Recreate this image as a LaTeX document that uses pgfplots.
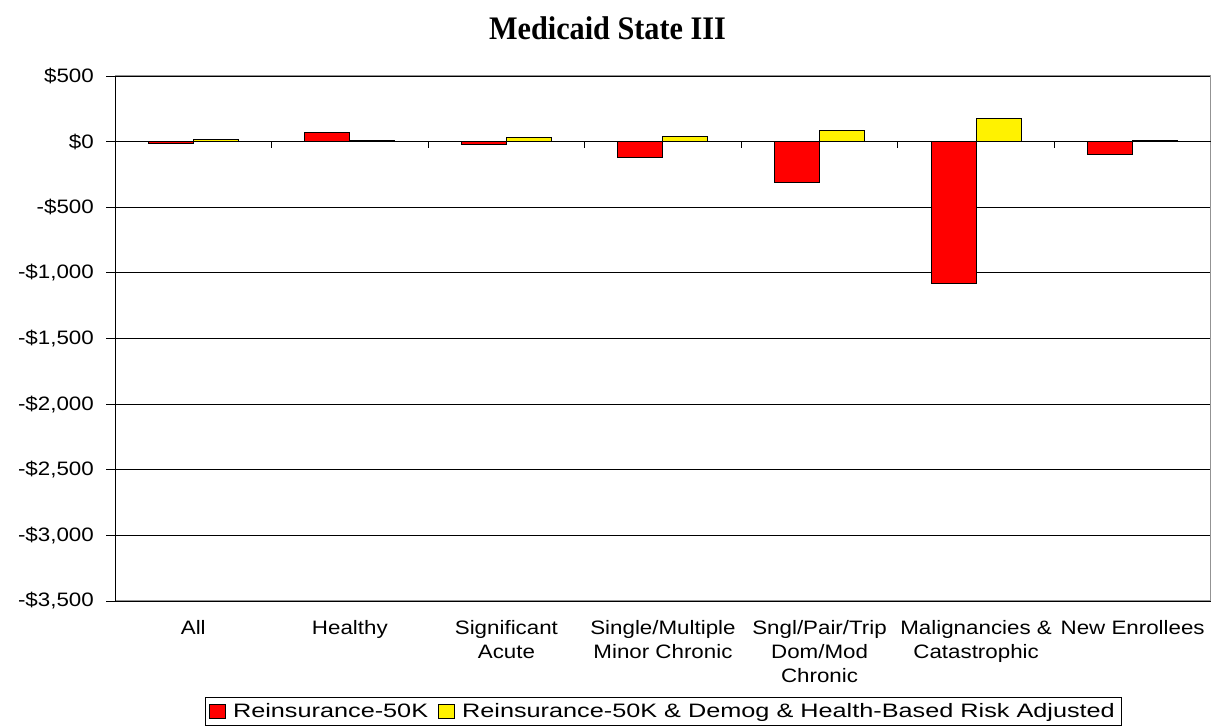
\documentclass[border=0pt]{standalone}
\usepackage{fontspec}
\setmainfont{Liberation Sans}[FakeStretch=1.15]
\newfontfamily\legfont{Liberation Sans}[FakeStretch=1.3]
\newfontfamily\titlefont{Liberation Serif}[FakeStretch=0.92]
\usepackage{pgfplots}
\pgfplotsset{compat=1.18}
\pgfplotsset{sqlegend/.style={legend image code/.code={\draw[##1] (0bp,-7bp) rectangle (16bp,7bp);}}}
\begin{document}
\begin{tikzpicture}[x=1bp,y=1bp]
\useasboundingbox (0,0) rectangle (1213,728);
\node[font=\titlefont\fontsize{33}{38}\selectfont\bfseries] at (607.5,700) {Medicaid State III};
\begin{axis}[
  at={(115bp,127bp)}, anchor=south west,
  width=1096bp, height=525bp, scale only axis,
  xmin=-0.5, xmax=6.5, ymin=-3500, ymax=500,
  ybar=0pt, bar width=45bp,
  xtick={0,1,2,3,4,5,6},
  xticklabels={All,Healthy,{Significant\\Acute},{Single/Multiple\\Minor Chronic},{Sngl/Pair/Trip\\Dom/Mod\\Chronic},{Malignancies \&\\Catastrophic},New Enrollees},
  xtick style={draw=none},
  ytick={-3500,-3000,-2500,-2000,-1500,-1000,-500,0,500},
  yticklabels={{-\$3,500},{-\$3,000},{-\$2,500},{-\$2,000},{-\$1,500},{-\$1,000},{-\$500},{\$0},{\$500}},
  ytick pos=left, tick align=outside, major tick length=9bp,
  ytick style={black, line width=0.8bp},
  ymajorgrids, grid style={black, line width=0.8bp},
  axis line style={draw=gray!85, line width=1bp},
  ticklabel style={font=\fontsize{19.5}{24}\selectfont},
  xticklabel style={align=center, inner sep=0pt, yshift=-10bp},
  yticklabel style={inner sep=0pt, xshift=-12bp},
  legend style={at={(0.5,-0.183)}, anchor=north, legend columns=-1, draw=black, line width=0.8bp,
    font=\legfont\fontsize{19.5}{24}\selectfont, inner xsep=4bp, inner ysep=4bp,
    /tikz/every odd column/.append style={column sep=5bp},
    /tikz/every even column/.append style={column sep=8bp}},
]
\addplot[fill=red, draw=black, line width=1bp, sqlegend]
  coordinates {(0,-18) (1,69) (2,-23) (3,-120) (4,-311) (5,-1080) (6,-97)};
\addplot[fill=yellow, draw=black, line width=1bp, sqlegend]
  coordinates {(0,13) (1,8) (2,28) (3,41) (4,84) (5,173) (6,10)};
\legend{Reinsurance-50K, Reinsurance-50K \& Demog \& Health-Based Risk Adjusted}
\draw[black, line width=1bp] (axis cs:-0.5,0) -- (axis cs:6.5,0);
\draw[black, line width=1bp] (rel axis cs:0,0) -- (rel axis cs:0,1);
\pgfplotsinvokeforeach{0.5,1.5,2.5,3.5,4.5,5.5,6.5}{\draw[black, line width=0.8bp] (axis cs:#1,0) -- ++(0bp,-6bp);}
\end{axis}
\end{tikzpicture}
\end{document}
